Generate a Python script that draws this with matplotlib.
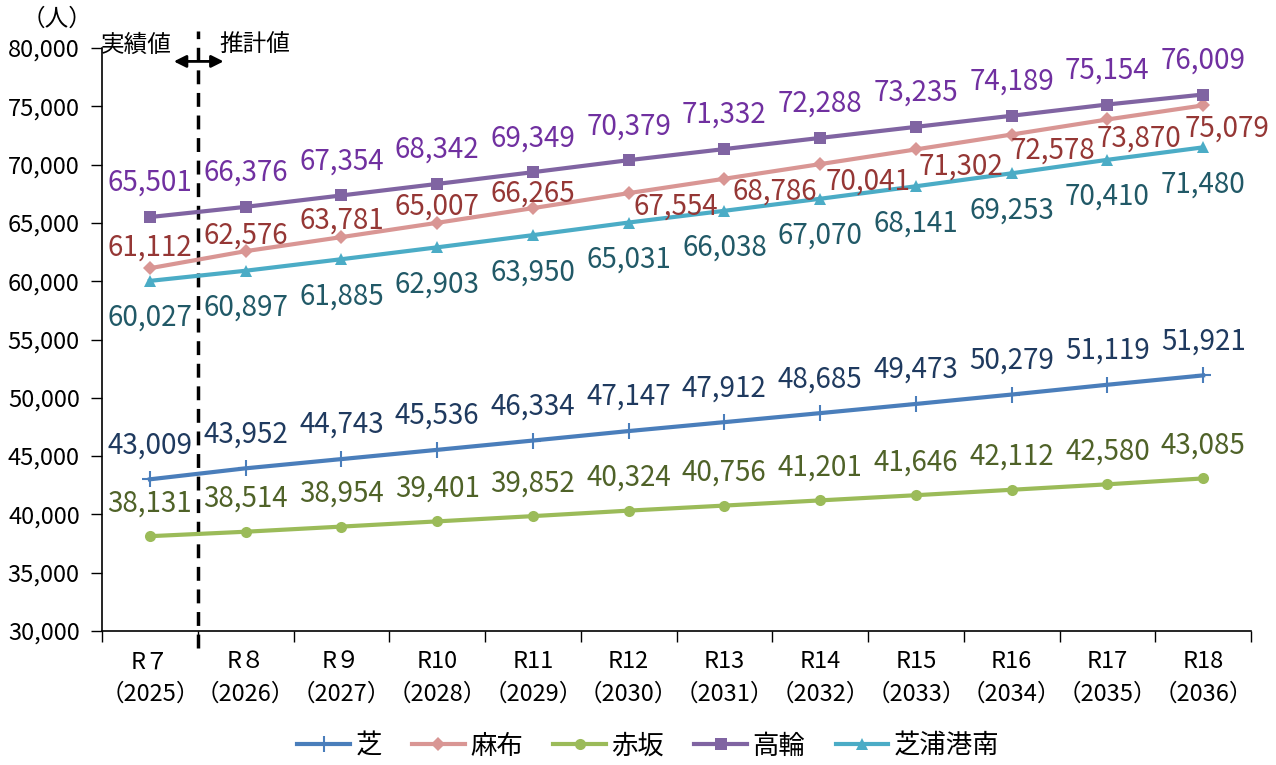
import matplotlib
matplotlib.use("Agg")
import matplotlib.pyplot as plt
import numpy as np

# 年度ラベル
years = ["R７\n（2025）", "R８\n（2026）", "R９\n（2027）", "R10\n（2028）",
         "R11\n（2029）", "R12\n（2030）", "R13\n（2031）", "R14\n（2032）",
         "R15\n（2033）", "R16\n（2034）", "R17\n（2035）", "R18\n（2036）"]

shiba = [43009, 43952, 44743, 45536, 46334, 47147, 47912, 48685, 49473, 50279, 51119, 51921]
azabu = [61112, 62576, 63781, 65007, 66265, 67554, 68786, 70041, 71302, 72578, 73870, 75079]
akasaka = [38131, 38514, 38954, 39401, 39852, 40324, 40756, 41201, 41646, 42112, 42580, 43085]
takanawa = [65501, 66376, 67354, 68342, 69349, 70379, 71332, 72288, 73235, 74189, 75154, 76009]
shibaura = [60027, 60897, 61885, 62903, 63950, 65031, 66038, 67070, 68141, 69253, 70410, 71480]

names = ["芝", "麻布", "赤坂", "高輪", "芝浦港南"]
series = [shiba, azabu, akasaka, takanawa, shibaura]
line_cols = ["#4A7EBB", "#D99694", "#9BBB59", "#8064A2", "#4BACC6"]
text_cols = ["#1F3A5F", "#953735", "#4F6228", "#7030A0", "#215967"]
markers = ["+", "D", "o", "s", "^"]
msizes = [12, 7, 8, 8, 9]

JP = ["Noto Sans CJK JP", "DejaVu Sans"]

fig = plt.figure(figsize=(12.76, 7.65), dpi=100)
ax = fig.add_axes([102 / 1276, 1 - 631 / 765, (1251 - 102) / 1276, (631 - 48) / 765])

x = np.arange(len(years))
for vals, nm, lc, mk, ms in zip(series, names, line_cols, markers, msizes):
    ax.plot(x, vals, color=lc, lw=3, marker=mk, ms=ms, mew=1.5 if mk == "+" else 0,
            mfc=lc, mec=lc, label=nm, clip_on=False, zorder=3)

# data labels
up = [(0, 34)] * 12
down = [(0, -37)] * 12
azabu_off = [(0, 21), (0, 16), (0, 17), (0, 16), (0, 15), (47, -13), (50, -13),
             (48, -17), (45, -17), (41, -16), (32, -19), (24, -23)]
offsets = [up, azabu_off, [(0, 33)] * 12, up, down]
for vals, tc, offs in zip(series, text_cols, offsets):
    for i, v in enumerate(vals):
        ax.annotate(f"{v:,}", (i, v), xytext=offs[i], textcoords="offset pixels",
                    ha="center", va="center", color=tc, fontsize=20, family=JP)

ax.set_xlim(-0.5, 11.5)
ax.set_ylim(30000, 80000)
ax.set_yticks(np.arange(30000, 80001, 5000))
ax.set_yticklabels([f"{t:,}" for t in range(30000, 80001, 5000)], family=JP, fontsize=17)
ax.set_xticks(x)
ax.set_xticklabels(years, family=JP, fontsize=17, linespacing=1.5)
ax.set_xticks(np.arange(-0.5, 12, 1), minor=True)
ax.tick_params(axis="x", which="major", length=0, pad=14)
ax.tick_params(axis="x", which="minor", length=8, width=1, direction="out")
ax.tick_params(axis="y", length=8, width=1, pad=8)
for s in ["top", "right"]:
    ax.spines[s].set_visible(False)
for s in ["left", "bottom"]:
    ax.spines[s].set_linewidth(1.2)

# 実績値 / 推計値 separator
ax.plot([0.5, 0.5], [-0.03, 1.03], transform=ax.get_xaxis_transform(), color="black",
        lw=2.5, ls=(0, (4, 2.5)), clip_on=False, zorder=2)
ax.annotate("", xy=(0.25, 0.977), xytext=(0.77, 0.977), xycoords=ax.get_xaxis_transform(),
            textcoords=ax.get_xaxis_transform(),
            arrowprops=dict(arrowstyle="<|-|>", color="black", lw=2, mutation_scale=18,
                            shrinkA=0, shrinkB=0))
fig.text(101 / 1276, 1 - 45 / 765, "実績値", family=JP, fontsize=17, ha="left", va="center")
fig.text(219 / 1276, 1 - 45 / 765, "推計値", family=JP, fontsize=17, ha="left", va="center")
fig.text(57 / 1276, 1 - 19 / 765, "（人）", family=JP, fontsize=17, ha="center", va="center")

leg = fig.legend(loc="center", bbox_to_anchor=(0.508, 1 - 746 / 765), ncol=5, frameon=False,
                 prop={"family": JP, "size": 19}, handlelength=2.0, columnspacing=1.15,
                 handletextpad=0.2)

fig.savefig("out.png", dpi=100)
